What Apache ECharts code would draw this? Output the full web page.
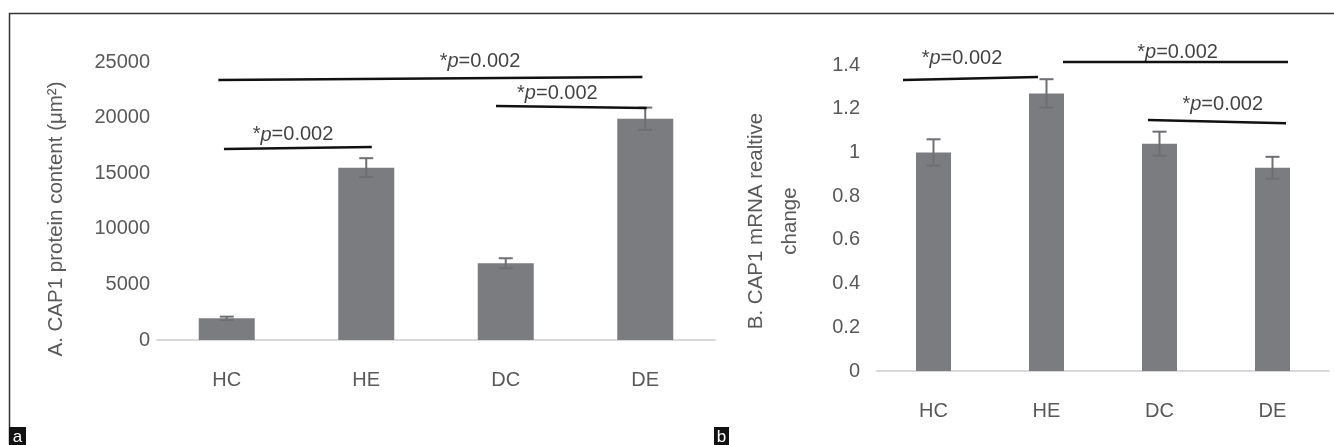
<!DOCTYPE html>
<html>
<head>
<meta charset="utf-8">
<script src="https://cdn.jsdelivr.net/npm/echarts@6/dist/echarts.min.js"></script>
<style>
html,body{margin:0;padding:0;background:#fff;}
#chart{width:1334px;height:445px;}
</style>
</head>
<body>
<div id="chart"></div>
<script>
// ---- data ----
const categories = ['HC', 'HE', 'DC', 'DE'];
const proteinMean = [1950, 15500, 6900, 19900];
const proteinErr = [150, 850, 450, 1000];
const mrnaMean = [1.00, 1.27, 1.04, 0.93];
const mrnaErr = [0.06, 0.065, 0.055, 0.05];
const sigText = '*p=0.002';
// significance brackets: [xFrom, yFrom, xTo, yTo] in (category index, value)
const proteinSigLines = [[-0.02, 17180, 1.04, 17360], [-0.06, 23380, 2.98, 23650], [1.93, 21040, 3.01, 20860]];
const proteinSigLabels = [[0.475, 18440], [1.815, 25090], [2.37, 22210]];
const mrnaSigLines = [[-0.27, 1.331, 0.925, 1.345], [1.146, 1.414, 3.137, 1.414], [1.898, 1.148, 3.12, 1.134]];
const mrnaSigLabels = [[0.252, 1.432], [2.16, 1.459], [2.56, 1.221]];

const FONT = 'Liberation Sans, Arial, sans-serif';
const GRAY = '#595959';
const BAR = '#7b7c80';

const chart = echarts.init(document.getElementById('chart'), null, {renderer: 'canvas'});

function errorSeries(mean, err, xi, yi) {
  return {
    type: 'custom', xAxisIndex: xi, yAxisIndex: yi, silent: true, z: 5,
    data: mean.map((m, i) => [i, m, err[i]]),
    encode: {x: 0, y: 1},
    renderItem: function (params, api) {
      const x = api.value(0), m = api.value(1), e = api.value(2);
      const t = api.coord([x, m + e]);
      const b = api.coord([x, m - e]);
      const s = {stroke: '#6e6f73', lineWidth: 2};
      return {type: 'group', children: [
        {type: 'line', shape: {x1: t[0], y1: t[1], x2: b[0], y2: b[1]}, style: s},
        {type: 'line', shape: {x1: t[0] - 7, y1: t[1], x2: t[0] + 7, y2: t[1]}, style: s},
        {type: 'line', shape: {x1: b[0] - 7, y1: b[1], x2: b[0] + 7, y2: b[1]}, style: s}
      ]};
    }
  };
}

function sigSeries(lines, labels, xi, yi) {
  const out = lines.map(l => ({
    type: 'line', xAxisIndex: xi, yAxisIndex: yi, silent: true, clip: false,
    symbol: 'none', z: 6,
    lineStyle: {color: '#111', width: 2.5},
    data: [[l[0], l[1]], [l[2], l[3]]]
  }));
  out.push({
    type: 'scatter', xAxisIndex: xi, yAxisIndex: yi, silent: true, clip: false,
    symbolSize: 1, itemStyle: {color: 'rgba(0,0,0,0)'}, z: 7,
    data: labels,
    label: {
      show: true, position: 'inside',
      formatter: '{a|*}{b|p}{a|=0.002}',
      rich: {
        a: {fontFamily: FONT, fontSize: 20, color: '#111'},
        b: {fontFamily: FONT, fontSize: 20, color: '#111', fontStyle: 'italic'}
      }
    }
  });
  return out;
}

const catAxisCommon = {
  type: 'category', data: categories,
  axisLine: {lineStyle: {color: '#d9d9d9', width: 2}},
  axisTick: {show: false},
  axisLabel: {fontFamily: FONT, fontSize: 20, color: GRAY, margin: 30}
};
const hiddenX = {type: 'value', min: -0.5, max: 3.5, show: false};

const option = {
  animation: false,
  backgroundColor: '#fff',
  grid: [
    {left: 157, top: 62, width: 558, height: 278},
    {left: 877, top: 65, width: 452, height: 306}
  ],
  xAxis: [
    Object.assign({gridIndex: 0}, catAxisCommon),
    Object.assign({gridIndex: 0}, hiddenX),
    Object.assign({gridIndex: 1}, catAxisCommon),
    Object.assign({gridIndex: 1}, hiddenX)
  ],
  yAxis: [
    {type: 'value', gridIndex: 0, min: 0, max: 25000, interval: 5000,
     axisLine: {show: false}, axisTick: {show: false}, splitLine: {show: false},
     axisLabel: {fontFamily: FONT, fontSize: 20, color: GRAY, margin: 7,
                 formatter: v => String(v)}},
    {type: 'value', gridIndex: 1, min: 0, max: 1.4, interval: 0.2,
     axisLine: {show: false}, axisTick: {show: false}, splitLine: {show: false},
     axisLabel: {fontFamily: FONT, fontSize: 20, color: GRAY, margin: 17,
                 formatter: v => String(Math.round(v * 10) / 10)}}
  ],
  series: [
    {type: 'bar', xAxisIndex: 0, yAxisIndex: 0, data: proteinMean, barWidth: 56,
     itemStyle: {color: BAR}, silent: true},
    errorSeries(proteinMean, proteinErr, 0, 0),
    {type: 'bar', xAxisIndex: 2, yAxisIndex: 1, data: mrnaMean, barWidth: 35,
     itemStyle: {color: BAR}, silent: true},
    errorSeries(mrnaMean, mrnaErr, 2, 1)
  ].concat(sigSeries(proteinSigLines, proteinSigLabels, 1, 0))
   .concat(sigSeries(mrnaSigLines, mrnaSigLabels, 3, 1)),
  graphic: [
    {type: 'polyline', silent: true, z: 10,
     shape: {points: [[9.5, 460], [9.5, 13.5], [1340, 13.5]]},
     style: {stroke: '#333', lineWidth: 1.5, fill: null}},
    {type: 'text', silent: true, x: 56, y: 219, rotation: Math.PI / 2,
     style: {text: 'A. CAP1 protein content (μm²)', fontFamily: FONT, fontSize: 20.5,
             fill: GRAY, align: 'center', verticalAlign: 'middle'}},
    {type: 'text', silent: true, x: 773, y: 221, rotation: Math.PI / 2,
     style: {text: 'B. CAP1 mRNA realtive\nchange', fontFamily: FONT, fontSize: 20.5,
             lineHeight: 34, fill: GRAY, align: 'center', verticalAlign: 'middle'}},
    {type: 'rect', silent: true, z: 11, shape: {x: 9, y: 427, width: 17, height: 18},
     style: {fill: '#111'}},
    {type: 'text', silent: true, z: 12, x: 17.5, y: 437,
     style: {text: 'a', fontFamily: FONT, fontSize: 17, fill: '#fff', align: 'center', verticalAlign: 'middle'}},
    {type: 'rect', silent: true, z: 11, shape: {x: 714, y: 427, width: 15, height: 18},
     style: {fill: '#111'}},
    {type: 'text', silent: true, z: 12, x: 721.5, y: 437,
     style: {text: 'b', fontFamily: FONT, fontSize: 17, fill: '#fff', align: 'center', verticalAlign: 'middle'}}
  ]
};
chart.setOption(option);
</script>
</body>
</html>
